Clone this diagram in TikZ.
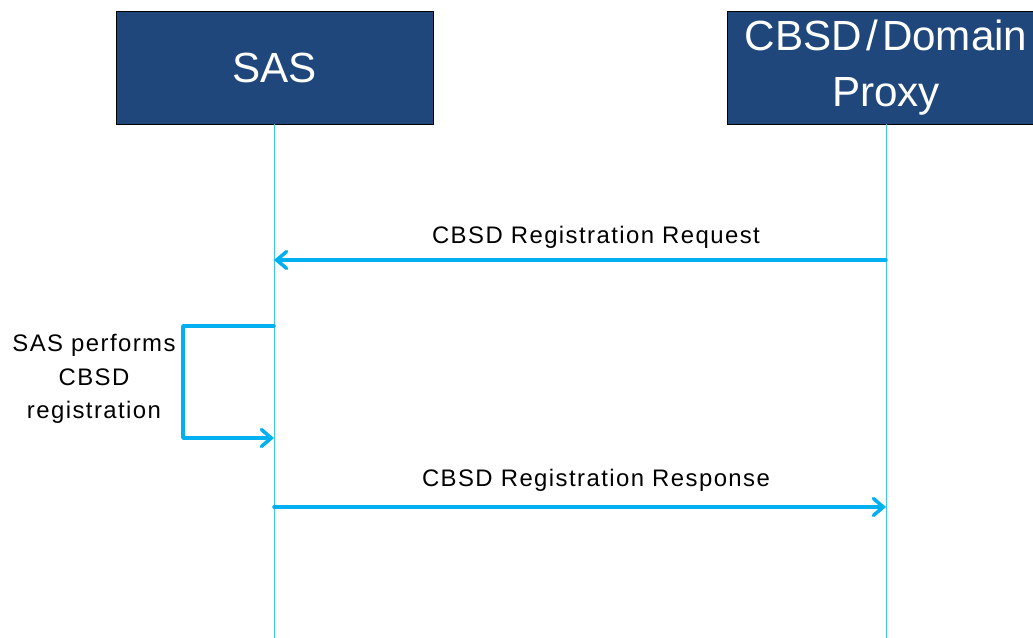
\documentclass[tikz,border=0pt]{standalone}
\usepackage{fontspec}
\setmainfont{Liberation Sans}
\newfontfamily\labelfont[LetterSpace=6]{Liberation Sans}
\usetikzlibrary{positioning,arrows.meta}

\definecolor{boxblue}{RGB}{31,71,123}
\definecolor{msgcyan}{RGB}{0,176,240}
\definecolor{lifecyan}{RGB}{60,196,245}

\tikzset{
	actor/.style={draw=black, fill=boxblue, text=white, minimum width=317*0.025cm,
		minimum height=113*0.025cm, inner sep=0pt, font=\fontsize{30}{40}\selectfont, align=center},
	lifeline/.style={draw=lifecyan, line width=0.7pt},
	msg/.style={draw=msgcyan, line width=2.5pt, line cap=round, line join=round,
		-{Straight Barb[length=7pt, width=12pt, line cap=round]}},
	msglabel/.style={font=\labelfont\fontsize{17}{24}\selectfont, inner sep=0pt}
}

\begin{document}
\begin{tikzpicture}[x=0.025cm, y=-0.025cm]

		\useasboundingbox (0,0) rectangle (1033,638);
		\clip (0,0) rectangle (1033,638);

		% Actors
		\node[actor] (sas) at (274.5,67.5) {SAS};
		\node[actor] (proxy) at (886,67.5) {CBSD\kern3pt/\kern3pt Domain\\Proxy};

		% Lifelines
		\coordinate (sasend) at (274,638);
		\coordinate (proxyend) at (886,638);
		\draw[lifeline] (sas.south -| sasend) -- (sasend);
		\draw[lifeline] (proxy.south -| proxyend) -- (proxyend);

		% Message points on the lifelines
		\coordinate (reqfrom) at (886,260);
		\coordinate (reqto) at (274,260);
		\coordinate (loopfrom) at (274,326);
		\coordinate (loopto) at (274,438);
		\coordinate (loopleft) at (183,326);
		\coordinate (respfrom) at (274,507);
		\coordinate (respto) at (886,507);

		% Registration request
		\draw[msg] (reqfrom) -- (reqto);
		\node[msglabel] (reqlabel) at (596,237) {CBSD Registration Request};

		% SAS performs registration
		\draw[msg] (loopfrom) -- (loopleft) |- (loopto);
		\node[msglabel, align=center, font=\labelfont\fontsize{17}{24}\selectfont] (looplabel) at (94,379)
			{SAS performs\\CBSD\\registration};

		% Registration response
		\draw[msg] (respfrom) -- (respto);
		\node[msglabel] (resplabel) at (596,480) {CBSD Registration Response};

	\end{tikzpicture}
\end{document}
